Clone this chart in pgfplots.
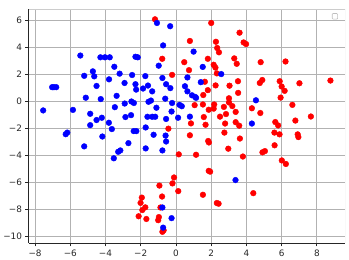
\documentclass[border=0pt]{standalone}
\usepackage{fontspec}
\setmainfont{DejaVu Sans}
\usepackage{pgfplots}
\pgfplotsset{compat=1.18}
\usepackage{pgfplotstable}

\pgfplotstableread{
x y
-1.19 6.05
-0.78 3.13
0.47 2.88
-0.22 1.94
-0.43 -2.04
2.00 5.78
3.61 5.06
0.79 4.45
2.27 4.39
2.34 3.93
2.44 3.61
3.84 4.34
3.98 4.22
1.81 3.13
3.31 3.16
3.45 2.76
4.81 2.88
6.22 2.93
2.14 2.69
2.24 2.48
0.74 2.29
2.32 2.05
1.64 1.43
3.52 1.47
4.76 1.34
4.90 1.56
5.89 1.47
7.01 1.32
8.77 1.52
2.25 1.16
3.04 1.14
6.00 1.08
6.17 0.76
1.81 0.81
3.53 0.61
1.55 0.45
3.01 0.21
5.94 0.26
1.06 -0.30
1.53 -0.25
2.17 -0.25
2.14 -0.56
1.86 -0.64
2.72 -0.43
3.20 -0.37
3.01 -0.10
4.31 -0.53
6.61 -0.28
3.39 -0.80
4.79 -0.88
1.58 -1.18
2.50 -1.15
2.84 -0.96
3.39 -1.56
3.59 -1.82
7.66 -1.14
6.78 -1.44
5.64 -1.55
5.80 -1.80
0.85 -1.65
1.68 -1.75
2.79 -1.66
0.79 -2.53
1.83 -2.95
1.87 -3.06
2.75 -2.33
3.63 -2.77
5.59 -2.33
5.88 -2.46
6.91 -2.46
6.95 -2.66
5.60 -3.27
2.97 -3.52
0.16 -3.94
1.14 -3.97
3.80 -4.10
4.91 -3.79
5.05 -3.70
6.01 -4.39
6.24 -4.65
1.86 -5.16
1.94 -5.22
0.13 -6.66
1.53 -6.93
4.39 -6.81
2.32 -7.54
2.42 -7.59
-0.11 -5.65
-0.20 -6.09
-0.94 -6.25
-0.79 -7.06
-1.94 -7.14
-2.01 -7.53
-1.74 -7.86
-1.91 -8.06
-0.88 -7.87
-2.12 -8.52
-1.68 -8.72
-0.97 -8.58
-1.01 -8.81
-0.77 -9.67
-0.70 -9.56
}\redpts

\pgfplotstableread{
x y
-7.54 -0.69
-7.03 1.03
-6.93 1.03
-6.80 1.03
-6.26 -2.45
-6.17 -2.33
-5.85 -0.65
-5.43 3.37
-5.21 1.87
-5.12 0.25
-5.21 -3.35
-4.87 -0.94
-4.87 -1.78
-4.72 2.20
-4.64 1.83
-4.51 1.12
-4.51 -1.40
-4.29 3.24
-4.03 3.24
-3.76 3.24
-4.27 0.15
-4.21 -1.23
-4.18 -2.62
-3.80 1.61
-3.81 -1.60
-3.64 -2.07
-3.53 -4.23
-3.50 2.54
-3.47 -0.45
-3.37 0.39
-3.28 -3.75
-3.16 -3.65
-3.20 2.03
-2.92 1.34
-2.91 -0.18
-2.87 -1.18
-2.70 -3.11
-2.55 -1.04
-2.53 -0.03
-2.49 1.93
-2.39 -0.14
-2.40 -2.22
-2.25 -2.22
-2.30 3.28
-2.17 3.24
-2.30 1.25
-2.26 0.85
-1.72 -1.95
-1.87 0.93
-1.74 1.85
-1.72 -3.50
-1.59 1.15
-1.62 -1.16
-1.35 -1.16
-1.18 -1.16
-1.56 -0.05
-1.42 0.04
-1.35 0.72
-1.27 -2.49
-1.11 -0.49
-1.08 5.78
-0.98 2.62
-0.77 1.71
-0.77 -3.65
-0.73 4.12
-0.61 0.18
-0.59 -2.55
-0.56 -2.99
-0.56 1.25
-0.56 -1.32
-0.33 5.54
-0.32 0.96
-0.25 -8.66
-0.77 -7.87
-0.73 -9.36
-0.22 -0.14
-0.25 -0.77
0.12 -1.23
0.20 -0.28
0.33 -0.38
0.51 1.10
0.65 0.72
0.65 1.75
0.79 -1.15
0.91 0.43
1.09 0.31
1.14 0.24
1.00 3.66
1.41 1.40
1.52 2.53
2.57 2.00
3.38 -5.84
4.31 -1.66
4.54 0.06
}\bluepts

\begin{document}
\begin{tikzpicture}
\begin{axis}[name=ax,
  scale only axis, width=320bp, height=236.7bp,
  xmin=-8.35, xmax=9.6, ymin=-10.5, ymax=6.8,
  xtick={-8,-6,...,8}, xticklabels={−8,−6,−4,−2,0,2,4,6,8},
  ytick={-10,-8,...,6}, yticklabels={−10,−8,−6,−4,−2,0,2,4,6},
  grid=major, grid style={color=black!30, line width=0.8bp},
  axis x line*=bottom, axis y line*=left,
  axis line style={-, black!85, line width=1bp},
  tick align=outside, major tick length=3.5bp,
  tick style={black!85, line width=0.8bp},
  tick label style={font=\fontsize{9}{10}\selectfont, text=black!85},
]
\draw[black!20, line width=0.8bp] (rel axis cs:0,1) -- (rel axis cs:1,1) -- (rel axis cs:1,0);
\addplot[only marks, mark=*, mark size=2.9bp, draw=red, fill=red] table[x=x,y=y] {\redpts};
\addplot[only marks, mark=*, mark size=2.9bp, draw=blue, fill=blue] table[x=x,y=y] {\bluepts};
\draw[black!25, fill=white, line width=0.6bp, rounded corners=0.8bp]
  ([shift={(-13bp,-10bp)}]rel axis cs:1,1) rectangle ([shift={(-7.5bp,-4.4bp)}]rel axis cs:1,1);
\end{axis}
\path ([shift={(-25bp,-16bp)}]ax.south west) rectangle ([shift={(4bp,9.3bp)}]ax.north east);
\end{tikzpicture}
\end{document}
